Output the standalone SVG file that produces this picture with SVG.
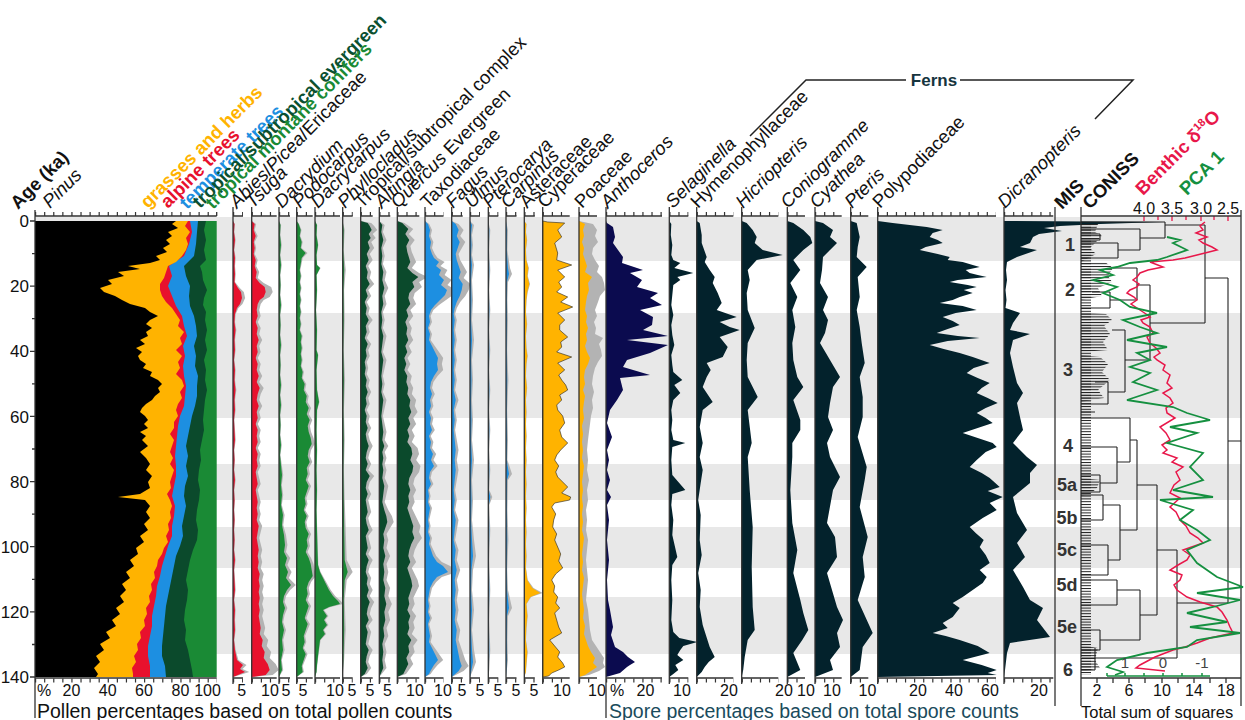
<svg xmlns="http://www.w3.org/2000/svg" width="1245" height="720" viewBox="0 0 1245 720">
<style>
text{font-family:"Liberation Sans",Arial,sans-serif}
.lab{font-size:18.5px;fill:#111}
.it{font-style:italic}
.grp{font-size:18.5px;font-weight:bold}
.num{font-size:16px;fill:#111;text-anchor:middle}
.ax{stroke:#333;stroke-width:1.3;fill:none}
.tk{stroke:#333;stroke-width:4;stroke-dasharray:1.2 7.885;fill:none}
.gy{fill:#b3b3b3}
.red{fill:#e8112d}
.grn{fill:#1a8a35}
.dkg{fill:#0b4a2c}
.blu{fill:#1d8fe1}
.org{fill:#ffb300}
.fern{fill:#03222c}
.band{fill:#e8e8e8}
.mis{font-size:18px;font-weight:bold;fill:#333;text-anchor:middle}
.den{stroke:#222;stroke-width:1.1;fill:none}
</style>
<defs>
<pattern id="hatch" patternUnits="userSpaceOnUse" width="10" height="2.8"><rect width="10" height="1" fill="#222"/></pattern>
<path id="c-abies" d="M0,221L1.5,224L1,232L2,240L1,250L2,258L1.5,266L2,274L1.5,282L5,288L8,292L9,298L7,304L4,308L2,314L1.5,322L2.5,330L1.5,340L2,350L1,360L2,370L1.5,380L2.5,390L1.5,400L2,410L1,420L1.5,430L2,440L1,450L1.5,460L1,470L2,480L1,490L1.5,500L1,510L1.5,520L1,530L1.5,540L1,550L2,560L1,570L1.5,580L2,590L1,600L2,610L1.5,620L2,630L1,640L2,650L4,660L10,665L7,669L12,672L5,675L0,677Z"/>
<path id="c-tsuga" d="M0,221L3,224L2,230L4,236L2,242L3,248L2,254L4,260L3,266L5,272L4,278L8,283L13,287L14,292L12,297L8,300L6,304L5,310L6,316L4,322L6,328L5,334L7,340L5,346L6,352L4,358L6,364L5,370L7,376L5,382L8,388L6,394L5,400L7,406L5,412L6,418L4,424L6,430L5,436L6,442L4,448L6,454L5,460L6,466L4,472L5,478L6,484L4,490L5,496L6,502L5,508L6,514L5,520L7,526L6,532L5,538L6,544L7,550L6,556L7,562L6,568L8,574L7,580L8,586L7,592L8,598L7,604L8,610L7,616L8,622L9,628L8,634L11,640L10,646L13,652L12,658L16,664L18,670L14,675L0,677Z"/>
<path id="c-dacrydium" d="M0,221L1.5,225L1,235L2,245L1,255L2,265L1,275L1.5,285L1,295L2,305L1,315L1.5,325L1,335L2,345L1,355L1.5,365L1,375L2,385L1,395L2,405L1,415L1.5,425L1,435L2,445L1,455L2,465L3,475L2,485L3,495L2,505L4,515L3,525L5,535L6,545L5,552L8,558L6,565L9,572L7,578L12,585L8,590L5,596L4,602L6,608L4,615L3,622L5,630L3,640L4,650L2,660L3,670L0,677Z"/>
<path id="c-podo" d="M0,221L2,224L4,230L3,236L5,242L4,248L9,253L5,258L4,264L3,270L4,276L3,282L4,288L3,294L4,300L3,306L4,312L3,318L4,324L3,330L5,336L4,342L5,348L4,354L5,360L4,366L6,372L5,378L8,384L7,390L10,396L9,402L12,408L10,414L13,420L11,426L12,432L14,438L15,444L12,450L11,456L13,462L10,468L11,474L9,480L12,486L10,492L8,498L9,504L7,510L10,516L8,522L9,528L12,534L10,540L11,546L9,552L12,558L14,564L15,570L16,576L12,582L10,588L11,594L9,600L12,606L10,612L8,618L11,624L9,630L7,636L8,642L6,648L9,654L7,660L5,666L6,672L0,677Z"/>
<path id="c-dacry" d="M0,221L2,225L1.5,235L3,245L1.5,255L2,265L5,268L1.5,275L2,290L1,310L2,330L1.5,350L3,355L1.5,370L2,390L4,402L2,410L1.5,430L2,450L1.5,470L2,490L1.5,510L2,530L2.5,550L3,565L5,572L8,578L11,584L14,590L18,596L23,601L25,604L14,607L8,610L12,616L9,620L12,625L8,630L10,634L5,640L4,648L3,656L2,665L1.5,672L0,677Z"/>
<path id="c-phyllo" d="M0,221L1,230L0.5,250L1.5,270L0.7,290L1,320L0.5,350L1.2,380L0.6,410L1,440L0.6,470L1,500L1.5,530L2,560L5,572L2,580L1,600L1.5,630L0.7,660L0,677Z"/>
<path id="c-tropcx" d="M0,221L7,223L9,226L11,230L8,234L10,238L7,242L9,248L6,254L8,260L5,266L7,272L6,278L9,284L5,290L7,296L4,302L6,308L5,314L8,320L5,326L6,332L4,338L7,344L5,350L6,356L4,362L5,368L4,374L6,380L5,386L7,392L5,398L6,404L4,410L6,416L5,422L7,428L5,434L6,440L8,446L6,452L5,458L7,464L5,470L9,476L6,482L5,488L7,494L5,500L6,506L7,512L5,518L6,524L8,530L5,536L6,542L7,548L5,554L8,560L6,566L5,572L7,578L6,584L8,590L6,596L9,602L7,608L6,614L8,620L5,626L7,632L6,638L5,644L8,650L6,656L5,662L7,668L4,674L0,677Z"/>
<path id="c-alt" d="M0,221L3,225L2,232L4,240L2,248L3,256L2,264L4,272L3,280L5,288L3,296L4,304L2,312L3,320L2,328L4,336L3,344L2,352L4,360L3,368L2,376L3,384L2,392L4,400L3,408L2,416L3,424L4,432L3,440L5,446L3,452L4,458L3,464L4,470L3,478L5,486L4,494L3,502L5,510L7,516L8,522L6,528L4,534L5,540L4,548L6,556L4,564L5,572L4,580L6,588L5,596L7,604L5,612L6,620L4,628L5,636L3,644L4,652L3,660L4,668L0,677Z"/>
<path id="c-querc" d="M0,221L5,223L11,229L8,234L12,240L9,246L10,252L13,262L10,268L15,273L21,277L15,282L17,287L12,293L11,298L13,304L9,310L11,316L8,322L10,328L9,334L11,340L8,346L10,352L7,358L9,364L7,370L10,376L9,382L11,388L10,394L13,400L12,406L14,412L11,418L13,424L10,430L12,436L10,442L14,448L15,454L13,460L16,466L15,472L12,478L11,484L13,490L11,496L12,502L10,508L12,514L14,520L16,526L15,532L17,538L14,544L12,550L11,556L13,562L10,568L12,574L14,580L15,586L13,592L11,598L12,604L10,610L13,616L11,622L12,628L10,634L14,640L11,646L12,652L9,658L11,664L8,670L6,674L0,677Z"/>
<path id="c-taxod" d="M0,221L3,224L5,230L4,236L6,242L5,248L7,254L9,258L14,262L11,266L16,270L14,275L19,280L16,285L22,290L20,295L15,300L10,305L6,310L4,316L5,322L3,328L5,334L4,340L7,346L10,352L13,358L12,364L13,370L9,376L6,382L5,388L7,394L5,400L6,406L4,412L6,418L5,424L7,430L4,436L6,442L5,448L8,454L6,460L9,466L5,472L4,478L6,484L3,490L4,496L3,502L5,508L4,514L3,520L4,526L3,532L5,538L4,544L6,550L8,556L12,562L18,566L23,572L12,577L8,582L5,588L4,594L3,600L4,606L3,612L5,618L3,624L4,630L5,636L4,642L7,648L10,654L13,660L9,665L6,670L4,674L0,677Z"/>
<path id="c-fagus" d="M0,221L4,224L7,230L5,236L8,242L6,248L4,254L5,260L7,266L9,272L7,278L11,284L10,290L8,296L5,302L3,308L2,314L3,320L2,330L3,340L2,350L3,360L2,370L3,380L2,390L4,400L2,410L3,420L2,430L3,440L4,450L3,460L4,470L3,480L2,490L3,500L2,510L4,520L3,530L2,540L4,550L3,560L5,570L3,580L4,590L3,600L4,610L3,620L5,630L4,640L6,650L8,660L10,666L7,671L0,677Z"/>
<path id="c-ulmus" d="M0,221L2,225L1,235L1.5,245L1,255L2,265L1,280L1.5,300L1,320L2,340L1,360L1.5,380L1,400L1.5,420L1,440L2,460L1,480L1.5,500L1,520L2,540L3,556L1.5,570L1,590L2,610L1,630L2,650L3,662L1.5,670L0,677Z"/>
<path id="c-ptero" d="M0,221L1,230L0.5,250L1,270L0.5,290L1,310L0.5,330L1,350L0.5,370L1,390L0.5,410L1,430L0.5,450L1,470L0.5,490L2,497L0.5,505L1,530L0.5,560L1,590L0.5,620L1,650L0.5,670L0,677Z"/>
<path id="c-carp" d="M0,221L1,230L0.7,250L2,268L3,274L1,282L0.7,300L1,320L0.6,350L1.2,380L0.6,410L1,440L0.7,460L3,474L1,480L0.7,510L1.2,540L0.6,570L1,590L3,608L1,616L0.7,640L1,660L0,677Z"/>
<path id="c-aster" d="M0,221L2,224L1.5,232L2.5,240L1.5,250L2,260L4,268L3,276L5,284L3,292L2,300L1.5,312L2.5,324L1.5,336L2,348L3,356L2,364L1.5,376L2.5,388L1.5,400L2,412L1.5,424L2,436L1.5,448L2,460L1.5,472L2,484L1.5,496L2,508L1.5,520L2,532L1.5,544L2,556L1.5,568L3,580L8,588L16,593L6,597L2,604L3,616L2,628L1.5,640L3,652L2,664L1.5,672L0,677Z"/>
</defs>
<rect width="1245" height="720" fill="#fff"/>
<g id="bands">
<rect class="band" x="35" y="217" width="1206" height="44"/>
<rect class="band" x="35" y="313" width="1206" height="105"/>
<rect class="band" x="35" y="464" width="1206" height="36"/>
<rect class="band" x="35" y="527" width="1206" height="41"/>
<rect class="band" x="35" y="597" width="1206" height="57"/>
</g>
<g id="stacked-pollen">
<rect class="grn" x="35" y="221" width="181.7" height="456"/>
<path class="dkg" d="M35,221L206,221L204,230L206,240L204,250L206,260L200,266L202,272L203,280L207,290L204,298L203,305L206,312L205,320L207,330L205,340L207,350L204,360L206,370L205,380L207,390L205,400L204,410L203,420L204,430L202,440L200,450L201,460L199,470L198,480L200,490L199,500L197,510L196,520L198,530L197,540L193,550L190,560L188,570L186,580L188,590L187,600L185,610L184,620L186,630L185,640L188,650L190,660L192,670L193,677L35,677Z"/>
<path class="blu" d="M35,221L198,221L197,232L196,244L194,256L184,266L186,276L190,286L189,296L190,306L194,316L196,326L197,336L194,346L196,356L195,366L198,376L197,386L197,396L195,406L192,416L190,426L188,436L186,446L188,456L186,466L188,476L185,486L184,496L186,506L184,516L182,526L183,536L180,546L176,556L174,566L172,576L170,586L168,596L166,606L165,616L164,626L163,636L162,646L162,656L165,666L166,677L35,677Z"/>
<path class="red" d="M35,221L190,221L192,232L189,244L184,256L169,266L172,276L168,286L172,296L176,306L182,316L184,326L187,336L183,346L185,356L183,366L184,376L186,386L185,396L184,406L180,416L178,426L177,436L176,446L175,456L176,466L176,476L174,486L172,496L175,506L174,516L172,526L172,536L168,546L165,556L162,566L160,576L157,586L156,596L154,606L152,616L152,626L150,636L148,646L148,656L150,666L150,677L35,677Z"/>
<path class="org" d="M35,221L188,221L185,226L190,232L186,238L188,244L186,250L182,256L176,262L168,266L166,272L164,278L160,284L160,290L162,296L166,302L172,308L176,314L180,320L178,326L184,332L180,338L182,344L176,350L182,356L178,362L180,368L176,374L182,380L184,386L180,392L182,398L178,404L176,410L178,416L174,422L174,428L170,434L174,440L172,446L170,452L173,458L170,464L174,470L172,476L170,482L171,488L167,494L170,500L172,506L170,512L171,518L168,524L169,530L166,536L168,542L164,548L162,554L158,560L157,566L154,572L155,578L151,584L152,590L149,596L150,602L146,608L147,614L144,620L145,626L140,632L141,638L137,644L138,650L134,656L136,662L132,668L133,674L133,677L35,677Z"/>
<path fill="#000" d="M35,221L176,221L172,224L178,228L168,232L172,236L166,240L170,244L163,248L167,252L156,256L160,260L150,263L128,266L140,269L118,272L124,276L108,280L112,284L100,288L104,292L115,296L122,300L130,304L145,308L150,312L158,316L150,320L146,324L152,328L146,332L148,336L140,340L145,344L136,348L142,352L138,356L140,360L146,364L143,368L152,372L150,376L158,380L162,384L158,388L160,392L155,396L152,400L146,404L142,408L140,412L145,416L148,420L144,424L148,428L140,432L146,436L142,440L148,446L140,452L146,458L150,464L146,470L152,476L148,482L150,488L140,494L118,497L145,500L150,506L146,512L150,518L144,524L148,530L140,536L144,542L136,548L138,554L130,560L134,566L126,572L130,578L122,584L126,590L120,596L124,602L116,608L120,614L112,620L116,626L106,632L110,638L100,644L104,650L96,656L100,662L94,668L98,674L96,677L35,677Z"/>
<path class="ax" d="M35,210V718M35,216H216.7M35,678H216.7M216.7,212V216"/>
<path class="tk" d="M35,214H217M35,680.5H217"/>
<path class="ax" d="M30,221H35M30,286.1H35M30,351.3H35M30,416.4H35M30,481.6H35M30,546.7H35M30,611.9H35M30,677H35M32,253.6H35M32,318.7H35M32,383.9H35M32,449H35M32,514.2H35M32,579.3H35M32,644.5H35"/>
</g>
<g id="col-abies" transform="translate(233,0)"><use href="#c-abies" class="gy" transform="scale(1.35,1)"/><use href="#c-abies" class="red"/><path class="ax" d="M0,207V684M0,216H10M0,678H10"/><path class="tk" d="M0,214H10M0,680.5H10"/></g>
<g id="col-tsuga" transform="translate(251.7,0)"><use href="#c-tsuga" class="gy" transform="scale(1.5,1)"/><use href="#c-tsuga" class="red"/><path class="ax" d="M0,207V684M0,216H25M0,678H25"/><path class="tk" d="M0,214H25M0,680.5H25"/></g>
<g id="col-dacrydium" transform="translate(279,0)"><use href="#c-dacrydium" class="gy" transform="scale(1.4,1)"/><use href="#c-dacrydium" class="grn"/><path class="ax" d="M0,207V684M0,216H11M0,678H11"/><path class="tk" d="M0,214H11M0,680.5H11"/></g>
<g id="col-podocarpus" transform="translate(296.7,0)"><use href="#c-podo" class="gy" transform="scale(1.2,1)"/><use href="#c-podo" class="grn"/><path class="ax" d="M0,207V684M0,216H16M0,678H16"/><path class="tk" d="M0,214H16M0,680.5H16"/></g>
<g id="col-dacrycarpus" transform="translate(315,0)"><use href="#c-dacry" class="gy" transform="scale(1.12,1)"/><use href="#c-dacry" class="grn"/><path class="ax" d="M0,207V684M0,216H25M0,678H25"/><path class="tk" d="M0,214H25M0,680.5H25"/></g>
<g id="col-phyllocladus" transform="translate(342.7,0)"><use href="#c-phyllo" class="gy" transform="scale(2,1)"/><use href="#c-phyllo" class="grn"/><path class="ax" d="M0,207V684M0,216H10M0,678H10"/><path class="tk" d="M0,214H10M0,680.5H10"/></g>
<g id="col-tropcomplex" transform="translate(360.7,0)"><use href="#c-tropcx" class="gy" transform="scale(1.5,1)"/><use href="#c-tropcx" class="dkg"/><path class="ax" d="M0,207V684M0,216H12M0,678H12"/><path class="tk" d="M0,214H12M0,680.5H12"/></g>
<g id="col-altingia" transform="translate(379.3,0)"><use href="#c-alt" class="gy" transform="scale(1.8,1)"/><use href="#c-alt" class="dkg"/><path class="ax" d="M0,207V684M0,216H11M0,678H11"/><path class="tk" d="M0,214H11M0,680.5H11"/></g>
<g id="col-quercus" transform="translate(397.3,0)"><use href="#c-querc" class="gy" transform="scale(1.45,1)"/><use href="#c-querc" class="dkg"/><path class="ax" d="M0,207V684M0,216H22M0,678H22"/><path class="tk" d="M0,214H22M0,680.5H22"/></g>
<g id="col-taxodiaceae" transform="translate(425,0)"><use href="#c-taxod" class="gy" transform="scale(1.4,1)"/><use href="#c-taxod" class="blu"/><path class="ax" d="M0,207V684M0,216H18.5M0,678H18.5"/><path class="tk" d="M0,214H18.5M0,680.5H18.5"/></g>
<g id="col-fagus" transform="translate(451.7,0)"><use href="#c-fagus" class="gy" transform="scale(1.7,1)"/><use href="#c-fagus" class="blu"/><path class="ax" d="M0,207V684M0,216H11M0,678H11"/><path class="tk" d="M0,214H11M0,680.5H11"/></g>
<g id="col-ulmus" transform="translate(470,0)"><use href="#c-ulmus" class="gy" transform="scale(2,1)"/><use href="#c-ulmus" class="blu"/><path class="ax" d="M0,207V684M0,216H10M0,678H10"/><path class="tk" d="M0,214H10M0,680.5H10"/></g>
<g id="col-pterocarya" transform="translate(488.3,0)"><use href="#c-ptero" class="gy" transform="scale(2,1)"/><use href="#c-ptero" class="blu"/><path class="ax" d="M0,207V684M0,216H10M0,678H10"/><path class="tk" d="M0,214H10M0,680.5H10"/></g>
<g id="col-carpinus" transform="translate(506,0)"><use href="#c-carp" class="gy" transform="scale(2,1)"/><use href="#c-carp" class="blu"/><path class="ax" d="M0,207V684M0,216H10.5M0,678H10.5"/><path class="tk" d="M0,214H10.5M0,680.5H10.5"/></g>
<g id="col-asteraceae" transform="translate(524.3,0)"><use href="#c-aster" class="gy" transform="scale(1.15,1)"/><use href="#c-aster" class="org"/><path class="ax" d="M0,207V684M0,216H10.5M0,678H10.5"/><path class="tk" d="M0,214H10.5M0,680.5H10.5"/></g>
<g id="col-cyperaceae" transform="translate(542.7,0)"><path class="org" stroke="#222" stroke-width="0.6" d="M0,221L5,222L22,223L15,230L19,237L12,243L15,253L14,260L29,265L15,270L22,277L16,282L19,287L14,292L25,297L18,302L30,307L15,313L22,320L17,325L17,330L25,337L18,342L19,347L14,352L29,357L15,363L22,370L16,375L19,380L23,385L25,390L17,395L19,400L14,405L15,410L20,416L22,423L17,430L19,437L25,443L18,450L14,455L12,460L16,466L13,472L15,477L20,482L25,487L19,493L28,497L27,500L12,503L9,507L13,514L11,520L10,527L14,534L12,540L15,547L18,554L16,561L20,568L13,574L9,580L12,586L11,592L15,597L13,603L17,608L12,613L14,620L16,627L19,633L7,640L12,646L17,652L15,657L20,663L22,667L16,670L9,673L6,676L0,677Z"/><path class="ax" d="M0,207V684M0,216H27M0,678H27"/><path class="tk" d="M0,214H27M0,680.5H27"/></g>
<g id="col-poaceae" transform="translate(579,0)"><path class="gy" d="M0,221L14,224L18,230L16,236L19,242L14,248L13,254L16,260L20,266L18,272L23,277L25,283L26,290L21,296L19,302L16,310L18,316L15,322L17,328L16,334L24,338L20,344L22,350L23,356L19,362L16,368L14,376L13,384L15,392L13,400L14,408L12,416L11,424L10,432L9,440L8,450L9,460L8,470L10,480L8,490L9,500L7,510L8,520L7,530L9,540L8,550L7,560L8,570L9,580L8,590L7,600L9,610L10,620L11,630L13,640L17,646L21,652L25,658L24,663L26,667L20,671L10,675L0,677Z"/><path class="org" d="M0,221L6,224L4,230L5,236L3,242L5,248L4,254L6,260L8,266L6,272L13,277L9,283L10,290L8,296L7,302L6,310L8,316L7,322L9,328L7,334L8,340L6,346L8,352L11,358L9,364L6,370L5,377L6,384L4,390L6,396L5,402L4,410L5,418L3,426L4,434L3,442L4,450L3,458L5,466L4,474L3,482L4,490L3,498L4,506L3,514L4,522L3,530L5,538L4,546L3,554L4,562L3,570L5,578L4,586L3,594L4,602L5,610L4,618L6,626L5,634L7,640L9,646L12,652L16,658L14,663L18,667L12,671L6,675L0,677Z"/><path class="ax" d="M0,207V684M0,216H18M0,678H18"/><path class="tk" d="M0,214H18M0,680.5H18"/></g>
<g id="col-anthoceros" transform="translate(606,0)"><path fill="#0b0b4f" d="M0,221L1,223L7,227L9,237L7,243L12,250L17,257L16,263L37,270L24,273L36,280L31,287L52,293L44,298L56,305L34,310L47,317L46,325L37,330L62,336L21,340L62,345L44,353L21,360L17,367L44,375L14,378L17,390L11,400L4,410L1,423L6,437L1,450L3,460L1,470L4,480L1,490L5,497L1,505L3,520L1,540L3,560L1,580L2,600L4,610L7,627L5,635L9,647L17,652L22,657L29,662L24,665L21,667L14,673L0,677Z"/><path class="ax" d="M0,207V718M0,216H56M0,678H56"/><path class="tk" d="M0,214H56M0,680.5H56"/></g>
<g id="col-selaginella" transform="translate(669.3,0)"><path class="fern" d="M0,221L2,224L1.5,235L3,245L2,255L4,260L11,263L5,268L24,273L8,277L11,280L4,285L3,295L2,305L4,315L2,325L3,335L5,345L2,355L3,365L4,372L13,380L5,385L11,393L4,400L2,410L3,420L2,430L4,440L16,443L3,447L2,460L3,475L16,490L3,494L2,505L4,520L3,535L8,557L3,565L2,580L3,600L2,620L4,632L10,638L28,642L14,646L11,650L8,655L14,660L6,665L9,670L4,674L0,677Z"/><path class="ax" d="M0,207V684M0,216H19M0,678H19"/><path class="tk" d="M0,214H19M0,680.5H19"/></g>
<g id="col-hymenophyllaceae" transform="translate(696.7,0)"><path class="fern" d="M0,221L3,223L5,235L5,243L10,257L8,262L13,270L18,277L16,283L21,293L25,303L20,310L40,317L23,322L33,327L43,330L23,337L31,347L26,357L10,363L14,370L10,377L6,387L16,402L6,410L3,427L6,443L3,457L6,470L4,483L1.5,500L4,515L3,540L5,555L1.5,573L4,590L3,607L6,625L13,647L18,657L12,662L8,667L5,672L0,677Z"/><path class="ax" d="M0,207V684M0,216H36.6M0,678H36.6"/><path class="tk" d="M0,214H36.6M0,680.5H36.6"/></g>
<g id="col-hicriopteris" transform="translate(741.7,0)"><path class="fern" d="M0,221L5,223L11,230L15,237L13,243L21,250L41,255L15,260L6,270L8,280L5,293L6,310L13,328L6,343L5,360L6,377L16,397L6,410L10,443L6,457L8,490L11,527L10,567L11,607L13,630L6,640L3,657L1.5,670L0,677Z"/><path class="ax" d="M0,207V684M0,216H36.6M0,678H36.6"/><path class="tk" d="M0,214H36.6M0,680.5H36.6"/></g>
<g id="col-coniogramme" transform="translate(787.3,0)"><path class="fern" d="M0,221L6,223L16,230L23,237L25,243L16,250L6,260L13,270L3,283L10,297L5,310L8,327L5,343L6,360L10,377L16,387L6,400L13,420L13,430L5,443L5,457L3,490L5,523L10,550L6,573L13,600L16,613L21,630L15,640L6,653L13,670L0,677Z"/><path class="ax" d="M0,207V684M0,216H17.7M0,678H17.7"/><path class="tk" d="M0,214H17.7M0,680.5H17.7"/></g>
<g id="col-cyathea" transform="translate(815,0)"><path class="fern" d="M0,221L8,223L18,230L15,237L22,243L15,250L8,257L7,270L5,283L13,297L8,310L13,320L10,333L5,343L15,360L25,377L18,387L15,403L13,417L18,430L12,443L15,457L25,477L18,490L12,523L20,537L22,557L12,573L22,607L28,620L22,633L25,647L15,660L18,670L0,677Z"/><path class="ax" d="M0,207V684M0,216H26.7M0,678H26.7"/><path class="tk" d="M0,214H26.7M0,680.5H26.7"/></g>
<g id="col-pteris" transform="translate(850.7,0)"><path class="fern" d="M0,221L6,223L9,237L7,247L6,257L16,267L7,277L9,297L6,310L9,327L11,343L14,363L9,377L12,397L12,417L7,437L16,467L14,480L9,507L17,537L12,557L14,577L7,600L22,633L12,647L9,670L0,677Z"/><path class="ax" d="M0,207V684M0,216H17.6M0,678H17.6"/><path class="tk" d="M0,214H17.6M0,680.5H17.6"/></g>
<g id="col-polypodiaceae" transform="translate(877.7,0)"><path class="fern" d="M0,221L15,223L49,227L65,230L55,233L52,237L60,240L65,243L48,247L42,250L60,254L72,257L70,260L85,262L95,265L102,267L88,270L92,273L100,275L109,277L80,280L72,282L90,285L99,287L86,290L95,293L82,297L75,300L62,303L85,306L99,310L78,313L65,317L75,321L82,325L70,329L59,333L80,336L102,338L70,341L52,345L66,349L82,353L95,357L112,363L96,368L89,373L100,378L112,383L104,388L99,393L110,398L120,403L108,408L99,413L108,418L115,423L100,428L85,433L100,438L115,443L119,447L108,452L99,460L92,467L104,473L112,478L122,487L110,491L125,497L112,503L119,510L105,518L92,527L98,533L106,540L102,547L108,555L112,563L102,570L109,577L105,583L95,590L85,597L75,603L82,608L75,617L65,623L70,628L55,633L68,636L82,640L100,646L112,653L85,660L104,665L119,670L110,673L119,675L0,677Z"/><path class="ax" d="M0,207V684M0,216H118.3M0,678H118.3"/><path class="tk" d="M0,214H118.3M0,680.5H118.3"/></g>
<g id="col-dicranopteris" transform="translate(1004,0)"><path class="fern" d="M0,221L159,222L96,224L56,226L40,228L58,231L35,234L29,237L26,243L16,247L33,250L13,257L3,262L2,270L3,280L1.5,290L2.5,300L1.5,308L16,313L9,323L6,330L26,334L9,340L6,353L9,367L13,383L19,393L13,403L16,417L19,430L9,443L13,447L23,457L33,465L26,473L26,483L9,497L13,513L23,530L13,543L21,557L9,570L19,587L26,600L39,608L33,620L46,637L6,643L3,653L1,670L0,677Z"/><path class="ax" d="M0,207V684M0,216H49.3M0,678H49.3"/><path class="tk" d="M0,214H49.3M0,680.5H49.3"/></g>
<g id="mis-column">
<path class="ax" d="M1055,207V706M1081,207V706M1241,210V706"/>
<text class="mis" x="1070" y="251">1</text>
<text class="mis" x="1070" y="296">2</text>
<text class="mis" x="1068" y="376">3</text>
<text class="mis" x="1068" y="452">4</text>
<text class="mis" x="1067" y="491">5a</text>
<text class="mis" x="1067" y="524">5b</text>
<text class="mis" x="1067" y="556">5c</text>
<text class="mis" x="1067" y="591">5d</text>
<text class="mis" x="1067" y="633">5e</text>
<text class="mis" x="1068" y="676">6</text>
</g>
<g id="coniss">
<path fill="url(#hatch)" d="M1081,222H1091V675H1081Z"/>
<path fill="url(#hatch)" d="M1081,224L1098,224L1095,232L1102,236L1090,248L1096,254L1081,262Z"/>
<path fill="url(#hatch)" d="M1081,262L1105,262L1113,268L1108,276L1112,282L1098,288L1102,296L1081,300Z"/>
<path fill="url(#hatch)" d="M1081,312L1106,314L1112,320L1104,326L1110,334L1103,342L1108,350L1081,352Z"/>
<path fill="url(#hatch)" d="M1081,355L1100,357L1108,364L1102,372L1110,380L1098,390L1104,398L1081,402Z"/>
<path fill="url(#hatch)" d="M1081,478L1100,480L1097,488L1090,494L1081,496Z"/>
<path fill="url(#hatch)" d="M1081,645L1098,648L1095,660L1100,668L1081,672Z"/>
<path class="den" d="M1228,278V603M1228,441H1241M1205,278H1228M1177,603H1228M1205,225V323M1165,225H1205M1150,323H1205M1165,222V238M1081,222H1165M1140,238H1165M1140,229V250M1081,229H1140M1118,250H1140M1118,243V258M1081,243H1118M1081,258H1118M1100,234V240M1081,234H1100M1081,240H1100M1150,285V360M1137,285H1150M1137,268V300M1113,268H1137M1110,300H1137M1110,292V308M1092,292H1110M1081,308H1110M1125,360H1150M1125,330V392M1112,330H1125M1108,392H1125M1108,382V404M1081,404H1108M1095,382H1108M1081,412H1095M1177,550V658M1157,550H1177M1082,658H1177M1157,485V615M1137,485H1157M1140,615H1157M1137,440V530M1130,440H1137M1120,530H1137M1130,418V462M1081,418H1130M1117,462H1130M1117,447V483M1081,447H1117M1100,483H1117M1100,475V492M1081,475H1100M1081,492H1100M1120,505V560M1103,505H1120M1108,560H1120M1103,495V520M1081,495H1103M1081,520H1103M1108,545V575M1081,545H1108M1081,575H1108M1140,590V640M1117,590H1140M1100,640H1140M1117,580V605M1081,580H1117M1081,605H1117M1100,630V650M1081,630H1100M1081,650H1100M1095,648V670M1081,670H1095"/>
</g>
<g id="benthic-d18O">
<polyline fill="none" stroke="#e8174a" stroke-width="1.5" points="1205,222 1200,226 1203,230 1196,233 1207,237 1199,240 1203,243 1212,247 1217,250 1205,253 1197,255 1185,258 1173,260 1150,262 1163,267 1148,270 1140,273 1137,277 1133,280 1139,284 1137,287 1130,290 1127,293 1134,297 1137,300 1131,304 1140,310 1146,314 1150,317 1141,320 1143,323 1150,327 1153,333 1147,337 1150,343 1156,348 1160,353 1154,357 1157,360 1165,365 1163,370 1170,375 1167,383 1172,388 1163,393 1170,398 1173,403 1166,408 1167,413 1175,418 1160,427 1166,433 1170,440 1162,445 1167,450 1163,453 1177,458 1172,462 1183,467 1176,472 1180,480 1174,485 1170,493 1180,498 1170,507 1176,512 1180,520 1186,526 1190,533 1198,538 1203,543 1183,550 1190,555 1187,560 1178,565 1170,570 1182,575 1180,580 1174,585 1177,590 1187,597 1200,602 1217,607 1222,612 1227,620 1230,627 1233,633 1210,638 1197,643 1185,647 1173,650 1155,657 1140,665 1136,668 1165,671"/>
<path stroke="#e8174a" stroke-width="1.3" d="M1144,216V221M1158,216V220M1172,216V221M1186,216V220M1201,216V221M1214,216V220M1228,216V221"/>
</g>
<g id="pca1">
<polyline fill="none" stroke="#159040" stroke-width="1.8" points="1167,237 1180,240 1173,243 1187,250 1167,257 1157,260 1130,263 1117,267 1100,270 1113,275 1093,280 1117,287 1103,293 1120,300 1130,307 1157,313 1123,320 1140,327 1157,333 1127,340 1167,347 1137,353 1150,360 1130,367 1150,373 1133,382 1157,390 1127,400 1173,407 1187,413 1210,420 1170,427 1197,433 1167,443 1203,453 1190,467 1203,480 1173,490 1213,497 1160,500 1193,510 1180,520 1197,530 1210,540 1187,550 1197,563 1217,577 1243,587 1197,593 1240,600 1213,607 1187,613 1227,622 1190,627 1240,633 1197,640 1187,647 1147,653 1117,660 1107,667 1123,672 1115,675"/>
<path fill="none" stroke="#159040" stroke-width="1.5" d="M1107,676H1210M1107,673V676M1125,673V676M1144,673V676M1163,673V676M1182,673V676M1202,673V676"/>
<text x="1125" y="668" font-size="15" fill="#444" text-anchor="middle">1</text>
<text x="1163" y="668" font-size="15" fill="#444" text-anchor="middle">0</text>
<text x="1202" y="668" font-size="15" fill="#444" text-anchor="middle">-1</text>
</g>
<g id="right-axes">
<path class="ax" d="M1081,216H1241M1081,678H1241"/>
<path class="ax" d="M1097,678V683M1113,678V683M1129,678V683M1145,678V683M1162,678V683M1178,678V683M1194,678V683M1210,678V683M1226,678V683"/>
<text class="num" x="1144" y="214">4.0</text>
<text class="num" x="1172" y="214">3.5</text>
<text class="num" x="1201" y="214">3.0</text>
<text class="num" x="1228" y="214">2.5</text>
<text class="num" x="1097" y="696">2</text>
<text class="num" x="1129" y="696">6</text>
<text class="num" x="1162" y="696">10</text>
<text class="num" x="1194" y="696">14</text>
<text class="num" x="1226" y="696">18</text>
<text x="1081" y="718" font-size="16.5" fill="#111">Total sum of squares</text>
</g>
<g id="age-axis-labels">
<text x="29" y="227" font-size="17" fill="#111" text-anchor="end">0</text>
<text x="29" y="292" font-size="17" fill="#111" text-anchor="end">20</text>
<text x="29" y="357" font-size="17" fill="#111" text-anchor="end">40</text>
<text x="29" y="423" font-size="17" fill="#111" text-anchor="end">60</text>
<text x="29" y="488" font-size="17" fill="#111" text-anchor="end">80</text>
<text x="29" y="553" font-size="17" fill="#111" text-anchor="end">100</text>
<text x="29" y="618" font-size="17" fill="#111" text-anchor="end">120</text>
<text x="29" y="683" font-size="17" fill="#111" text-anchor="end">140</text>
</g>
<g id="bottom-scale-labels">
<text x="37" y="696" font-size="16" fill="#111">%</text>
<text class="num" x="71.5" y="696">20</text>
<text class="num" x="107.7" y="696">40</text>
<text class="num" x="144" y="696">60</text>
<text class="num" x="180.4" y="696">80</text>
<text class="num" x="207.5" y="696">100</text>
<text class="num" x="241.6" y="696">5</text>
<text class="num" x="270" y="696">10</text>
<text class="num" x="286" y="696">5</text>
<text class="num" x="303" y="696">5</text>
<text class="num" x="335" y="696">10</text>
<text class="num" x="352" y="696">5</text>
<text class="num" x="370" y="696">5</text>
<text class="num" x="387.5" y="696">5</text>
<text class="num" x="415" y="696">10</text>
<text class="num" x="443" y="696">10</text>
<text class="num" x="462" y="696">5</text>
<text class="num" x="480" y="696">5</text>
<text class="num" x="498" y="696">5</text>
<text class="num" x="516" y="696">5</text>
<text class="num" x="534" y="696">5</text>
<text class="num" x="562" y="696">10</text>
<text class="num" x="597" y="696">10</text>
<text x="610" y="696" font-size="16" fill="#111">%</text>
<text class="num" x="645.5" y="696">20</text>
<text class="num" x="682" y="696">10</text>
<text class="num" x="729" y="696">20</text>
<text class="num" x="784" y="696">20</text>
<text class="num" x="806" y="696">10</text>
<text class="num" x="832" y="696">10</text>
<text class="num" x="867.5" y="696">10</text>
<text class="num" x="918" y="696">20</text>
<text class="num" x="954" y="696">40</text>
<text class="num" x="990" y="696">60</text>
<text class="num" x="1039" y="696">20</text>
<text x="37" y="718" font-size="19.5" fill="#111">Pollen percentages based on total pollen counts</text>
<text x="609" y="718" font-size="19.5" fill="#1a4b5c">Spore percentages based on total spore counts</text>
</g>
<g id="ferns-bracket">
<path fill="none" stroke="#222" stroke-width="1.5" d="M750,136L806,80H906M960,80H1133L1095,119"/>
<text x="934" y="86" font-size="17" font-weight="bold" fill="#16343e" text-anchor="middle">Ferns</text>
</g>
<g id="header-labels">
<text class="grp" transform="translate(18,210) rotate(-45)" font-size="17" fill="#111">Age (ka)</text>
<text class="lab it" transform="translate(50,209) rotate(-45)">Pinus</text>
<text class="grp" transform="translate(148,209) rotate(-45)" fill="#ffb300">grasses and herbs</text>
<text class="grp" transform="translate(168,209) rotate(-45)" fill="#e8112d">alpine trees</text>
<text class="grp" transform="translate(187,210) rotate(-45)" fill="#1d8fe1">temperate trees</text>
<text class="grp" transform="translate(200,209) rotate(-45)" fill="#0b5030">tropical/subtropical evergreen</text>
<text class="grp" transform="translate(213,210) rotate(-45)" fill="#1a8a35">tropical montane conifers</text>
<text class="lab" transform="translate(237,209) rotate(-45)"><tspan class="it">Abies</tspan>/<tspan class="it">Picea</tspan>/Ericaceae</text>
<text class="lab it" transform="translate(253,209) rotate(-45)">Tsuga</text>
<text class="lab it" transform="translate(282,209) rotate(-45)">Dacrydium</text>
<text class="lab it" transform="translate(300,209) rotate(-45)">Podocarpus</text>
<text class="lab it" transform="translate(318,209) rotate(-45)">Dacrycarpus</text>
<text class="lab it" transform="translate(345,209) rotate(-45)">Phyllocladus</text>
<text class="lab" transform="translate(362,209) rotate(-45)">Tropical/subtropical complex</text>
<text class="lab it" transform="translate(382,209) rotate(-45)">Altingia</text>
<text class="lab" transform="translate(398,209) rotate(-45)"><tspan class="it">Quercus</tspan> Evergreen</text>
<text class="lab" transform="translate(428,209) rotate(-45)">Taxodiaceae</text>
<text class="lab it" transform="translate(453,209) rotate(-45)">Fagus</text>
<text class="lab it" transform="translate(472,209) rotate(-45)">Ulmus</text>
<text class="lab it" transform="translate(490,209) rotate(-45)">Pterocarya</text>
<text class="lab it" transform="translate(508,209) rotate(-45)">Carpinus</text>
<text class="lab" transform="translate(527,209) rotate(-45)">Asteraceae</text>
<text class="lab" transform="translate(545,209) rotate(-45)">Cyperaceae</text>
<text class="lab" transform="translate(582,209) rotate(-45)">Poaceae</text>
<text class="lab it" transform="translate(608,209) rotate(-45)">Anthoceros</text>
<text class="lab it" transform="translate(673,209) rotate(-45)">Selaginella</text>
<text class="lab" transform="translate(698,209) rotate(-45)">Hymenophyllaceae</text>
<text class="lab it" transform="translate(743,209) rotate(-45)">Hicriopteris</text>
<text class="lab it" transform="translate(788,209) rotate(-45)">Coniogramme</text>
<text class="lab it" transform="translate(817,209) rotate(-45)">Cyathea</text>
<text class="lab it" transform="translate(852,209) rotate(-45)">Pteris</text>
<text class="lab" transform="translate(880,209) rotate(-45)">Polypodiaceae</text>
<text class="lab it" transform="translate(1005,209) rotate(-45)">Dicranopteris</text>
<text class="grp" transform="translate(1062,210) rotate(-45)" fill="#111">MIS</text>
<text class="grp" transform="translate(1090,210) rotate(-45)" fill="#111">CONISS</text>
<text class="grp" transform="translate(1143,196) rotate(-45)" fill="#e8174a">Benthic δ<tspan font-size="11" dy="-7">18</tspan><tspan dy="7">O</tspan></text>
<text class="grp" transform="translate(1187,196) rotate(-45)" fill="#159040">PCA 1</text>
</g>
</svg>
